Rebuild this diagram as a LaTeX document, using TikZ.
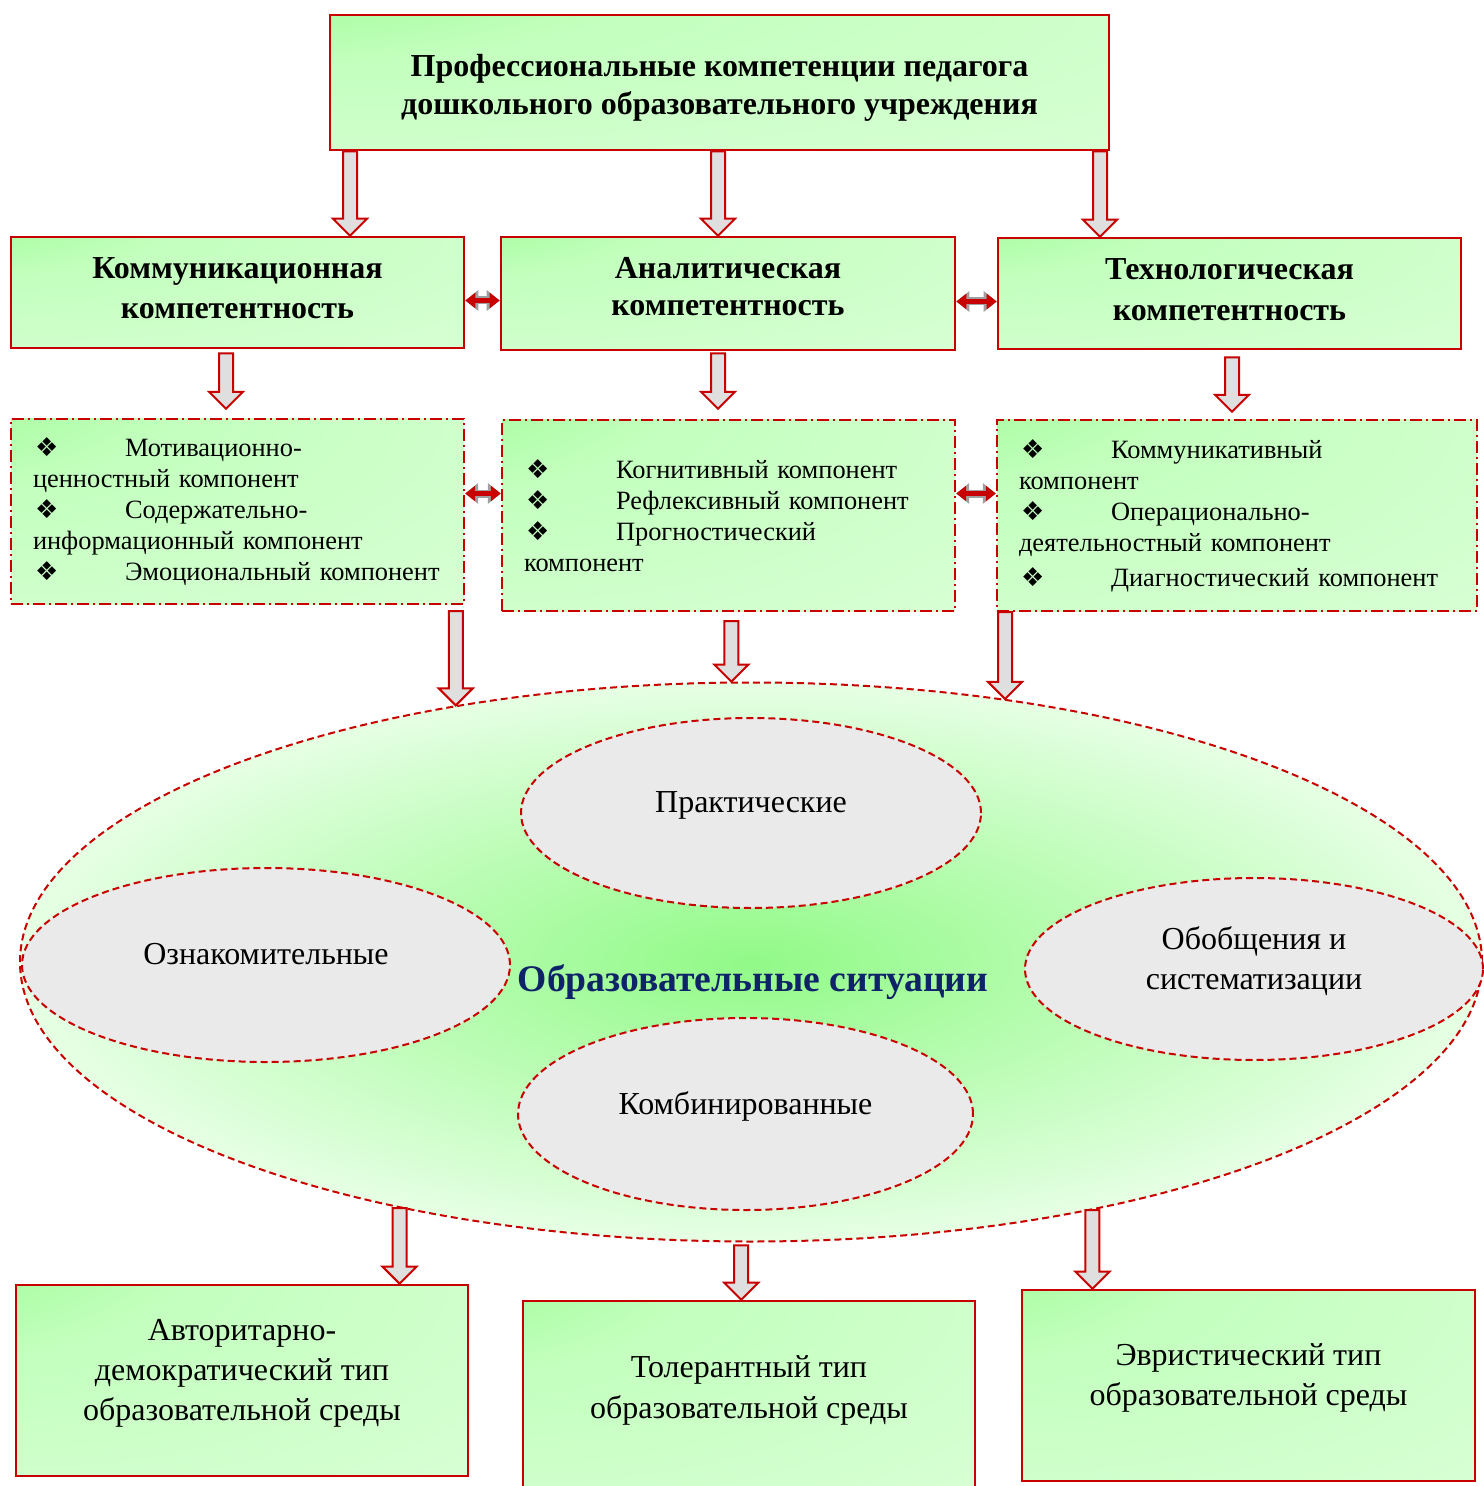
\documentclass[tikz,border=0pt]{standalone}
\usepackage{fontspec}
\setmainfont{Liberation Serif}
\newfontfamily\symfont{DejaVu Sans}
\usetikzlibrary{positioning}
\usetikzlibrary{calc}
\usetikzlibrary{shapes.geometric}
\usetikzlibrary{arrows.meta}

\definecolor{brdred}{RGB}{200,0,0}
\definecolor{grnhi}{RGB}{145,250,135}
\definecolor{grnmid}{RGB}{195,255,190}
\definecolor{grnlo}{RGB}{230,255,228}
\definecolor{sitblue}{RGB}{15,35,105}
\definecolor{speck}{RGB}{234,234,234}

\pgfdeclareradialshading{cornerglow}{\pgfpoint{-42bp}{42bp}}{color(0bp)=(grnhi); color(28bp)=(grnmid); color(95bp)=(grnlo); color(140bp)=(grnlo)}

\newcommand{\bul}{{\symfont\fontsize{13}{15}\selectfont ❖}}
\newcommand{\itm}[1]{\makebox[46pt][l]{\hspace{1pt}\bul}#1}
\newcommand{\dpt}[1]{\rule[-#1]{0pt}{#1}}
\newcommand{\hgt}[1]{\rule{0pt}{#1}}

\begin{document}
\begin{tikzpicture}[x=0.5pt, y=-0.5pt,
    greenbox/.style={rectangle, draw=brdred, line width=1.3pt, inner sep=0pt, align=center,
      shade, shading=cornerglow},
    compbox/.style={rectangle, draw=brdred, line width=1.2pt, inner sep=0pt, inner xsep=11pt, align=left,
      dash pattern=on 6pt off 2pt on 1pt off 2pt,
      shade, shading=cornerglow, font=\fontsize{13.2}{15.5}\selectfont},
    situation/.style={ellipse, draw=brdred, line width=1pt, dash pattern=on 3.5pt off 2pt, inner sep=0pt,
      fill=speck, align=center, font=\fontsize{16}{20}\selectfont},
    barrow/.style={draw=brdred, fill=gray!25, line width=1pt, line join=miter,
      to path={let \p1=(\tikztostart), \p2=(\tikztotarget) in
        (\x1-3.5pt,\y1) -- (\x1-3.5pt,\y2+8.5pt) -- (\x1-8.5pt,\y2+8.5pt) -- (\x1,\y2)
        -- (\x1+8.5pt,\y2+8.5pt) -- (\x1+3.5pt,\y2+8.5pt) -- (\x1+3.5pt,\y1) -- cycle}},
    dblarrow/.style={draw=brdred, line width=2.5pt,
      {Triangle[length=5pt,width=7.5pt]}-{Triangle[length=5pt,width=7.5pt]},
      preaction={draw=gray!75, line width=4pt,
        {Triangle[length=6.5pt,width=10pt]}-{Triangle[length=6.5pt,width=10pt]}}}]
  \useasboundingbox (0,0) rectangle (1483,1486);

  \node[greenbox, minimum width=389.5pt, minimum height=67.5pt, font=\fontsize{16}{19}\selectfont\bfseries] (top) at (719.5,82.5)
    {\hgt{16pt}Профессиональные компетенции педагога\\дошкольного образовательного учреждения};

  \node[greenbox, minimum width=226.5pt, minimum height=55.5pt, font=\fontsize{16}{20}\selectfont\bfseries] (kom) at (237.5,292.5)
    {Коммуникационная\\компетентность\dpt{4pt}};
  \node[greenbox, minimum width=227pt, minimum height=56.5pt, font=\fontsize{16}{18.5}\selectfont\bfseries] (ana) at (728,293.5)
    {Аналитическая\\компетентность\dpt{7pt}};
  \node[greenbox, minimum width=231.5pt, minimum height=55.5pt, font=\fontsize{16}{20.5}\selectfont\bfseries] (teh) at (1229.5,293.5)
    {Технологическая\\компетентность\dpt{3.5pt}};

  \node[compbox, text width=204.5pt, minimum height=92.5pt] (komc) at (237.5,511.5)
    {\itm{Мотивационно-}\\ценностный компонент\\\itm{Содержательно-}\\информационный компонент\\\itm{Эмоциональный компонент}};
  \node[compbox, text width=204.5pt, minimum height=95.5pt] (anac) at (728.5,515.5)
    {\itm{Когнитивный компонент}\\\itm{Рефлексивный компонент}\\\itm{Прогностический}\\компонент};
  \node[compbox, text width=218pt, minimum height=95.5pt] (tehc) at (1237,515.5)
    {\itm{Коммуникативный}\\компонент\\\itm{Операционально-}\\деятельностный компонент\\[2pt]\itm{Диагностический компонент}};

  \node[ellipse, draw=brdred, line width=1pt, dash pattern=on 3.5pt off 2pt, inner sep=0pt,
    inner color=grnhi, outer color=grnlo, minimum width=731pt, minimum height=279.5pt] (sit) at (751,962) {};
  \node[situation, minimum width=230pt, minimum height=95pt] (prak) at (751,813) {Практические\dpt{11pt}};
  \node[situation, minimum width=244pt, minimum height=97pt] (ozn) at (266,965) {Ознакомительные\dpt{11pt}};
  \node[situation, minimum width=229pt, minimum height=91pt] (obob) at (1254,969) {Обобщения и\\систематизации\dpt{11pt}};
  \node[situation, minimum width=227.5pt, minimum height=96pt] (komb) at (745.5,1114) {Комбинированные\dpt{11pt}};
  \node[font=\fontsize{18.8}{22}\selectfont\bfseries, text=sitblue] (sitlbl) at (753,982) {Образовательные ситуации};

  \node[greenbox, minimum width=226pt, minimum height=95.5pt, font=\fontsize{16}{20}\selectfont] (avt) at (242,1380.5)
    {Авторитарно-\\демократический тип\\образовательной среды\dpt{10.2pt}};
  \node[greenbox, minimum width=226pt, minimum height=95.5pt, font=\fontsize{16}{20.5}\selectfont] (tol) at (749,1396.5)
    {Толерантный тип\\образовательной среды\dpt{9.2pt}};
  \node[greenbox, minimum width=226.5pt, minimum height=95.5pt, font=\fontsize{16}{20}\selectfont] (evr) at (1248.5,1385.5)
    {Эвристический тип\\образовательной среды\dpt{11.2pt}};

  \draw[barrow] (top.south -| 350,0) to (kom.north -| 350,0);
  \draw[barrow] (top.south -| 718,0) to (ana.north -| 718,0);
  \draw[barrow] (top.south -| 1100,0) to (teh.north -| 1100,0);

  \draw[barrow] ($(kom.south -| 226,0)+(0,4)$) to ($(komc.north -| 226,0)+(0,-9)$);
  \draw[barrow] ($(ana.south -| 718,0)+(0,2)$) to ($(anac.north -| 718,0)+(0,-10)$);
  \draw[barrow] ($(teh.south -| 1232,0)+(0,7)$) to ($(tehc.north -| 1232,0)+(0,-7)$);

  \draw[dblarrow] ([yshift=-4pt]kom.east) -- ([yshift=-4pt]kom.east -| ana.west);
  \draw[dblarrow] ([yshift=-4pt]ana.east) -- ([yshift=-4pt]ana.east -| teh.west);
  \draw[dblarrow] ([yshift=9pt]komc.east) -- ([yshift=9pt]komc.east -| anac.west);
  \draw[dblarrow] ([yshift=11pt]anac.east) -- ([yshift=11pt]anac.east -| tehc.west);

  \draw[barrow] ($(komc.south -| sit.139)+(0,6)$) to (sit.139);
  \draw[barrow] ($(anac.south -| sit.94)+(0,9)$) to (sit.94);
  \draw[barrow] (tehc.south -| sit.46) to (sit.46);

  \draw[barrow] (sit.215) to (avt.north -| sit.215);
  \draw[barrow] ($(sit.268)+(0,3)$) to (tol.north -| sit.268);
  \draw[barrow] (sit.324) to (evr.north -| sit.324);
\end{tikzpicture}
\end{document}
